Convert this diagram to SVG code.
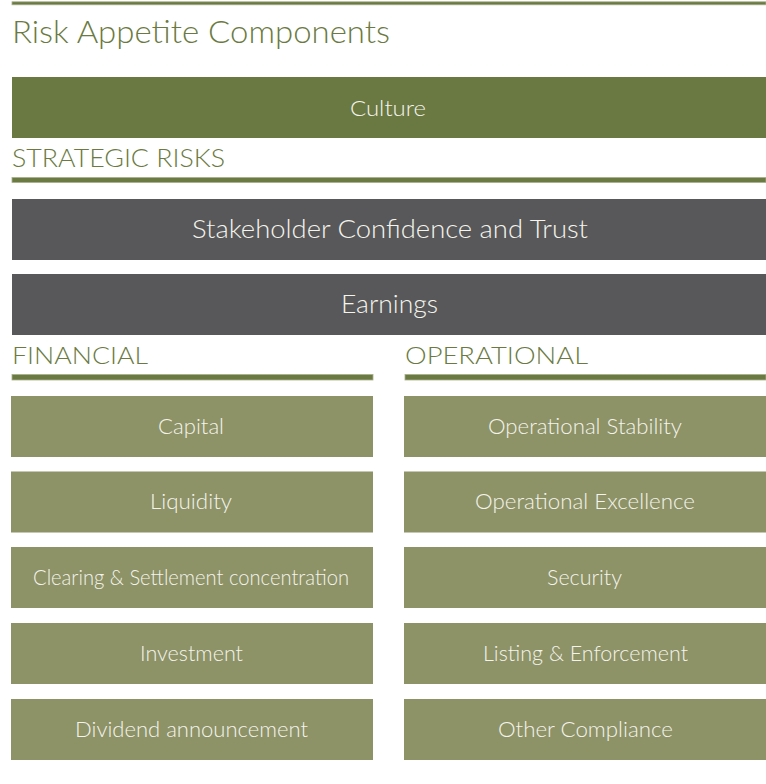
<svg xmlns="http://www.w3.org/2000/svg" width="766" height="784" viewBox="0 0 766 784">
<style>
.hd{font-family:Lato,"Open Sans","Liberation Sans",sans-serif;fill:#6b7a42;font-weight:300}
.bt{font-family:Lato,"Open Sans","Liberation Sans",sans-serif;fill:#f4f4ec;text-anchor:middle;font-weight:300}
.rule{fill:#6b7a42;stroke:#a7b08a;stroke-width:0.8}
.olive{fill:#6a7842}
.dark{fill:#58585a}
.light{fill:#8d9267}
</style>
<rect width="766" height="784" fill="#ffffff"/>
<g id="header">
<rect class="rule" x="12" y="1.8" width="754" height="3"/>
<text class="hd" x="12" y="43" font-size="32" textLength="378" lengthAdjust="spacingAndGlyphs">Risk Appetite Components</text>
</g>
<g id="culture">
<rect class="olive" x="12" y="77" width="754" height="61"/>
<text class="bt" x="388" y="116" font-size="22" textLength="76" lengthAdjust="spacingAndGlyphs">Culture</text>
</g>
<g id="strategic-risks">
<text class="hd" x="12" y="167" font-size="25" textLength="213" lengthAdjust="spacingAndGlyphs">STRATEGIC RISKS</text>
<rect class="rule" x="12" y="177.5" width="754" height="5"/>
</g>
<g id="stakeholder">
<rect class="dark" x="12" y="199" width="754" height="61"/>
<text class="bt" x="390" y="237.5" font-size="25" textLength="396" lengthAdjust="spacingAndGlyphs">Stakeholder Confidence and Trust</text>
</g>
<g id="earnings">
<rect class="dark" x="12" y="274" width="754" height="61"/>
<text class="bt" x="389.5" y="312.5" font-size="25" textLength="97" lengthAdjust="spacingAndGlyphs">Earnings</text>
</g>
<g id="financial">
<text class="hd" x="12" y="364" font-size="24" textLength="136" lengthAdjust="spacingAndGlyphs">FINANCIAL</text>
<rect class="rule" x="12" y="374.5" width="361" height="5.5"/>
</g>
<g id="operational">
<text class="hd" x="405" y="364" font-size="24" textLength="183" lengthAdjust="spacingAndGlyphs">OPERATIONAL</text>
<rect class="rule" x="405" y="374.5" width="361" height="5.5"/>
</g>
<g id="capital">
<rect class="light" x="11" y="396" width="362" height="61"/>
<text class="bt" x="191" y="433.5" font-size="21" textLength="66" lengthAdjust="spacingAndGlyphs">Capital</text>
</g>
<g id="liquidity">
<rect class="light" x="11" y="471.5" width="362" height="61"/>
<text class="bt" x="191" y="509" font-size="21" textLength="82" lengthAdjust="spacingAndGlyphs">Liquidity</text>
</g>
<g id="clearing">
<rect class="light" x="11" y="547" width="362" height="61"/>
<text class="bt" x="191" y="584.5" font-size="21" textLength="316" lengthAdjust="spacingAndGlyphs">Clearing &amp; Settlement concentration</text>
</g>
<g id="investment">
<rect class="light" x="11" y="623" width="362" height="61"/>
<text class="bt" x="191.5" y="660.5" font-size="21" textLength="103" lengthAdjust="spacingAndGlyphs">Investment</text>
</g>
<g id="dividend">
<rect class="light" x="11" y="699" width="362" height="61"/>
<text class="bt" x="191.5" y="736.5" font-size="21" textLength="233" lengthAdjust="spacingAndGlyphs">Dividend announcement</text>
</g>
<g id="op-stability">
<rect class="light" x="404" y="396" width="362" height="61"/>
<text class="bt" x="585" y="433.5" font-size="21" textLength="194" lengthAdjust="spacingAndGlyphs">Operational Stability</text>
</g>
<g id="op-excellence">
<rect class="light" x="404" y="471.5" width="362" height="61"/>
<text class="bt" x="585" y="509" font-size="21" textLength="220" lengthAdjust="spacingAndGlyphs">Operational Excellence</text>
</g>
<g id="security">
<rect class="light" x="404" y="547" width="362" height="61"/>
<text class="bt" x="584.5" y="584.5" font-size="21" textLength="75" lengthAdjust="spacingAndGlyphs">Security</text>
</g>
<g id="listing">
<rect class="light" x="404" y="623" width="362" height="61"/>
<text class="bt" x="585.5" y="660.5" font-size="21" textLength="205" lengthAdjust="spacingAndGlyphs">Listing &amp; Enforcement</text>
</g>
<g id="other-compliance">
<rect class="light" x="404" y="699" width="362" height="61"/>
<text class="bt" x="585.5" y="736.5" font-size="21" textLength="175" lengthAdjust="spacingAndGlyphs">Other Compliance</text>
</g>
<g id="connectors"></g>
</svg>
